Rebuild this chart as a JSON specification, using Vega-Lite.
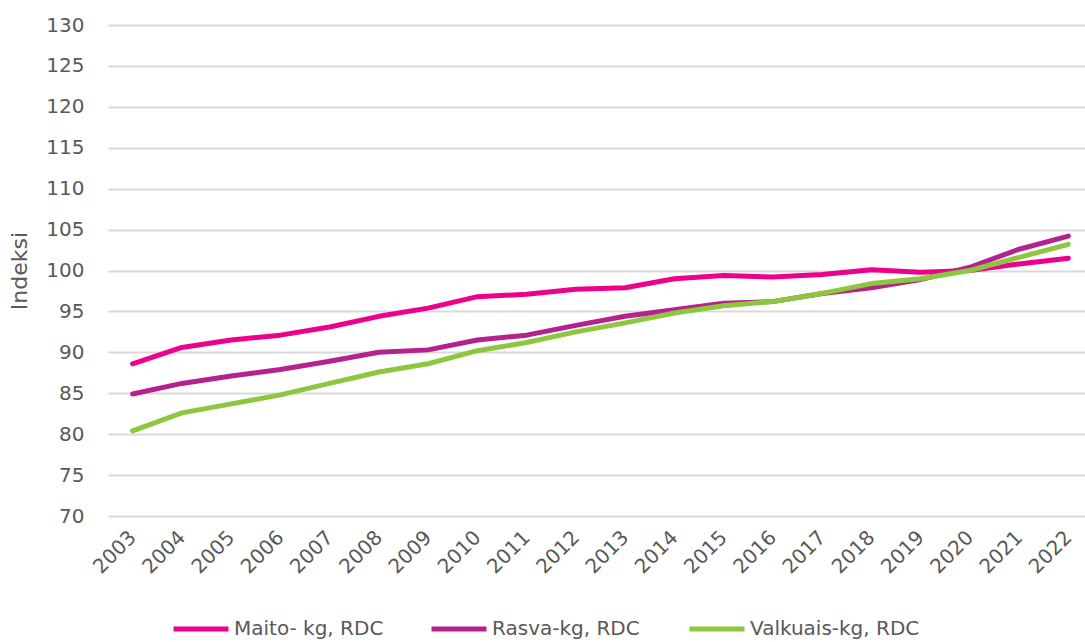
{
  "$schema": "https://vega.github.io/schema/vega-lite/v6.json",
  "width": 985,
  "height": 491,
  "autosize": {"type": "none"},
  "padding": {"left": 108, "top": 25, "right": 0, "bottom": 126},
  "background": "white",
  "config": {
    "font": "DejaVu Sans",
    "view": {"stroke": null},
    "axis": {"labelColor": "#595959", "titleColor": "#595959", "labelFont": "DejaVu Sans", "titleFont": "DejaVu Sans"}
  },
  "data": {
    "values": [
      {"vuosi": "2003", "sarja": "Maito- kg, RDC", "indeksi": 88.6},
      {"vuosi": "2004", "sarja": "Maito- kg, RDC", "indeksi": 90.6},
      {"vuosi": "2005", "sarja": "Maito- kg, RDC", "indeksi": 91.5},
      {"vuosi": "2006", "sarja": "Maito- kg, RDC", "indeksi": 92.1},
      {"vuosi": "2007", "sarja": "Maito- kg, RDC", "indeksi": 93.1},
      {"vuosi": "2008", "sarja": "Maito- kg, RDC", "indeksi": 94.4},
      {"vuosi": "2009", "sarja": "Maito- kg, RDC", "indeksi": 95.4},
      {"vuosi": "2010", "sarja": "Maito- kg, RDC", "indeksi": 96.8},
      {"vuosi": "2011", "sarja": "Maito- kg, RDC", "indeksi": 97.1},
      {"vuosi": "2012", "sarja": "Maito- kg, RDC", "indeksi": 97.7},
      {"vuosi": "2013", "sarja": "Maito- kg, RDC", "indeksi": 97.9},
      {"vuosi": "2014", "sarja": "Maito- kg, RDC", "indeksi": 99.0},
      {"vuosi": "2015", "sarja": "Maito- kg, RDC", "indeksi": 99.4},
      {"vuosi": "2016", "sarja": "Maito- kg, RDC", "indeksi": 99.2},
      {"vuosi": "2017", "sarja": "Maito- kg, RDC", "indeksi": 99.5},
      {"vuosi": "2018", "sarja": "Maito- kg, RDC", "indeksi": 100.1},
      {"vuosi": "2019", "sarja": "Maito- kg, RDC", "indeksi": 99.8},
      {"vuosi": "2020", "sarja": "Maito- kg, RDC", "indeksi": 100.0},
      {"vuosi": "2021", "sarja": "Maito- kg, RDC", "indeksi": 100.8},
      {"vuosi": "2022", "sarja": "Maito- kg, RDC", "indeksi": 101.5},
      {"vuosi": "2003", "sarja": "Rasva-kg, RDC", "indeksi": 84.9},
      {"vuosi": "2004", "sarja": "Rasva-kg, RDC", "indeksi": 86.2},
      {"vuosi": "2005", "sarja": "Rasva-kg, RDC", "indeksi": 87.1},
      {"vuosi": "2006", "sarja": "Rasva-kg, RDC", "indeksi": 87.9},
      {"vuosi": "2007", "sarja": "Rasva-kg, RDC", "indeksi": 88.9},
      {"vuosi": "2008", "sarja": "Rasva-kg, RDC", "indeksi": 90.0},
      {"vuosi": "2009", "sarja": "Rasva-kg, RDC", "indeksi": 90.3},
      {"vuosi": "2010", "sarja": "Rasva-kg, RDC", "indeksi": 91.5},
      {"vuosi": "2011", "sarja": "Rasva-kg, RDC", "indeksi": 92.1},
      {"vuosi": "2012", "sarja": "Rasva-kg, RDC", "indeksi": 93.3},
      {"vuosi": "2013", "sarja": "Rasva-kg, RDC", "indeksi": 94.4},
      {"vuosi": "2014", "sarja": "Rasva-kg, RDC", "indeksi": 95.2},
      {"vuosi": "2015", "sarja": "Rasva-kg, RDC", "indeksi": 96.0},
      {"vuosi": "2016", "sarja": "Rasva-kg, RDC", "indeksi": 96.2},
      {"vuosi": "2017", "sarja": "Rasva-kg, RDC", "indeksi": 97.2},
      {"vuosi": "2018", "sarja": "Rasva-kg, RDC", "indeksi": 97.9},
      {"vuosi": "2019", "sarja": "Rasva-kg, RDC", "indeksi": 98.9},
      {"vuosi": "2020", "sarja": "Rasva-kg, RDC", "indeksi": 100.4},
      {"vuosi": "2021", "sarja": "Rasva-kg, RDC", "indeksi": 102.6},
      {"vuosi": "2022", "sarja": "Rasva-kg, RDC", "indeksi": 104.2},
      {"vuosi": "2003", "sarja": "Valkuais-kg, RDC", "indeksi": 80.4},
      {"vuosi": "2004", "sarja": "Valkuais-kg, RDC", "indeksi": 82.6},
      {"vuosi": "2005", "sarja": "Valkuais-kg, RDC", "indeksi": 83.7},
      {"vuosi": "2006", "sarja": "Valkuais-kg, RDC", "indeksi": 84.8},
      {"vuosi": "2007", "sarja": "Valkuais-kg, RDC", "indeksi": 86.2},
      {"vuosi": "2008", "sarja": "Valkuais-kg, RDC", "indeksi": 87.6},
      {"vuosi": "2009", "sarja": "Valkuais-kg, RDC", "indeksi": 88.6},
      {"vuosi": "2010", "sarja": "Valkuais-kg, RDC", "indeksi": 90.2},
      {"vuosi": "2011", "sarja": "Valkuais-kg, RDC", "indeksi": 91.2},
      {"vuosi": "2012", "sarja": "Valkuais-kg, RDC", "indeksi": 92.5},
      {"vuosi": "2013", "sarja": "Valkuais-kg, RDC", "indeksi": 93.6},
      {"vuosi": "2014", "sarja": "Valkuais-kg, RDC", "indeksi": 94.8},
      {"vuosi": "2015", "sarja": "Valkuais-kg, RDC", "indeksi": 95.7},
      {"vuosi": "2016", "sarja": "Valkuais-kg, RDC", "indeksi": 96.2},
      {"vuosi": "2017", "sarja": "Valkuais-kg, RDC", "indeksi": 97.2},
      {"vuosi": "2018", "sarja": "Valkuais-kg, RDC", "indeksi": 98.4},
      {"vuosi": "2019", "sarja": "Valkuais-kg, RDC", "indeksi": 99.0},
      {"vuosi": "2020", "sarja": "Valkuais-kg, RDC", "indeksi": 100.0},
      {"vuosi": "2021", "sarja": "Valkuais-kg, RDC", "indeksi": 101.6},
      {"vuosi": "2022", "sarja": "Valkuais-kg, RDC", "indeksi": 103.2}
    ]
  },
  "mark": {"type": "line", "strokeWidth": 5, "strokeCap": "round", "strokeJoin": "round"},
  "encoding": {
    "x": {
      "field": "vuosi",
      "type": "ordinal",
      "scale": {"type": "point", "padding": 0.5},
      "axis": {
        "title": null,
        "labelAngle": -45,
        "labelAlign": "right",
        "labelBaseline": "middle",
        "labelFontSize": 20,
        "labelPadding": 18,
        "domain": false,
        "ticks": false,
        "grid": false
      }
    },
    "y": {
      "field": "indeksi",
      "type": "quantitative",
      "scale": {"domain": [70, 130], "nice": false, "zero": false},
      "axis": {
        "title": "Indeksi",
        "titleFontSize": 22,
        "titleFontWeight": "normal",
        "titlePadding": 14,
        "labelFontSize": 20,
        "labelPadding": 24,
        "values": [70, 75, 80, 85, 90, 95, 100, 105, 110, 115, 120, 125, 130],
        "domain": false,
        "ticks": false,
        "grid": true,
        "gridColor": "#d9d9d9",
        "gridWidth": 2
      }
    },
    "color": {
      "field": "sarja",
      "type": "nominal",
      "scale": {
        "domain": ["Maito- kg, RDC", "Rasva-kg, RDC", "Valkuais-kg, RDC"],
        "range": ["#ec008c", "#b5218e", "#8dc63f"]
      },
      "legend": {
        "title": null,
        "orient": "none",
        "legendX": 63,
        "legendY": 574,
        "direction": "horizontal",
        "columns": 3,
        "gridAlign": "all",
        "columnPadding": 17,
        "symbolType": "stroke",
        "symbolSize": 3025,
        "symbolStrokeWidth": 5,
        "symbolOffset": 0,
        "labelOffset": 3,
        "labelFontSize": 20,
        "labelColor": "#595959",
        "labelLimit": 300
      }
    }
  }
}
